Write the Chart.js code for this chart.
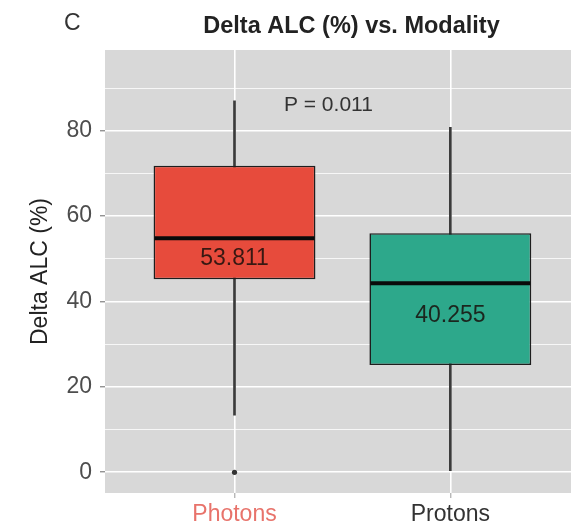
<!DOCTYPE html>
<html>
<head>
<meta charset="utf-8">
<script src="https://cdn.jsdelivr.net/npm/chart.js@4/dist/chart.umd.min.js"></script>
<style>
  html, body { margin: 0; padding: 0; background: #ffffff; }
  #wrap { width: 571px; height: 526px; }
</style>
</head>
<body>
<div id="wrap"><canvas id="c" width="571" height="526"></canvas></div>
<script>
// ---- data ----
const categories   = ['Photons', 'Protons'];
const whiskerLow   = [13.4, 0.4];
const q1           = [45.2, 25.1];
const median       = [54.8, 44.3];
const q3           = [71.8, 56.0];
const whiskerHigh  = [87.0, 80.8];
const outlierIndex = [0];
const outlierValue = [0.0];
const meanLabels   = ['53.811', '40.255'];
const meanLabelY   = [50.1, 36.6];
const yMajorTicks  = [0, 20, 40, 60, 80];
const yMinorTicks  = [10, 30, 50, 70, 90];
const chartTitle   = 'Delta ALC (%) vs. Modality';
const panelLetter  = 'C';
const yAxisTitle   = 'Delta ALC (%)';
const pValueText   = 'P = 0.011';
const pValuePos    = { x: 1.435, y: 86.0 };

const boxColors    = ['#E74B3C', '#2DA88B'];
const catColors    = ['#E8736B', '#333333'];
const FONT = '"Liberation Sans", Arial, Helvetica, sans-serif';

const catX = categories.map((c, i) => i + 1);

const panelPlugin = {
  id: 'panel',
  beforeDraw(chart) {
    const { ctx, chartArea: a } = chart;
    ctx.save();
    ctx.fillStyle = '#ffffff';
    ctx.fillRect(0, 0, chart.width, chart.height);
    ctx.fillStyle = '#D8D8D8';
    ctx.fillRect(a.left, a.top, a.right - a.left, a.bottom - a.top);
    ctx.restore();
  },
  afterDatasetsDraw(chart) {
    const { ctx, scales: { x, y } } = chart;
    ctx.save();
    // medians
    median.forEach((m, i) => {
      const cx = x.getPixelForValue(catX[i]);
      const half = (x.getPixelForValue(catX[i] + 0.375) - cx);
      ctx.strokeStyle = '#0a0a0a';
      ctx.lineWidth = 4;
      ctx.beginPath();
      ctx.moveTo(cx - half + 1, y.getPixelForValue(m));
      ctx.lineTo(cx + half - 1, y.getPixelForValue(m));
      ctx.stroke();
    });
    // mean labels
    ctx.font = '23px ' + FONT;
    ctx.textAlign = 'center';
    ctx.textBaseline = 'middle';
    ctx.fillStyle = 'rgba(25,15,10,0.85)';
    meanLabels.forEach((t, i) => {
      ctx.fillText(t, x.getPixelForValue(catX[i]), y.getPixelForValue(meanLabelY[i]));
    });
    // p value
    ctx.font = '21px ' + FONT;
    ctx.fillStyle = '#333333';
    ctx.fillText(pValueText, x.getPixelForValue(pValuePos.x), y.getPixelForValue(pValuePos.y));
    ctx.restore();
  },
  afterDraw(chart) {
    const { ctx } = chart;
    ctx.save();
    ctx.textBaseline = 'alphabetic';
    ctx.textAlign = 'center';
    ctx.fillStyle = '#222222';
    ctx.font = 'bold 23.5px ' + FONT;
    ctx.fillText(chartTitle, 351.5, 33);
    ctx.textAlign = 'left';
    ctx.fillStyle = '#333333';
    ctx.font = '23px ' + FONT;
    ctx.fillText(panelLetter, 64, 30);
    ctx.restore();
  }
};

new Chart(document.getElementById('c'), {
  type: 'bar',
  data: {
    datasets: [
      {
        label: 'whiskers',
        data: catX.map((v, i) => ({ x: v, y: [whiskerLow[i], whiskerHigh[i]] })),
        backgroundColor: '#3a3a3a',
        borderWidth: 0,
        barThickness: 2,
        grouped: false,
        order: 3
      },
      {
        label: 'boxes',
        data: catX.map((v, i) => ({ x: v, y: [q1[i], q3[i]] })),
        backgroundColor: boxColors,
        borderColor: '#1e1e1e',
        borderWidth: 1.6,
        borderSkipped: false,
        categoryPercentage: 1,
        barPercentage: 0.75,
        grouped: false,
        order: 2
      },
      {
        type: 'scatter',
        label: 'outliers',
        data: outlierIndex.map((k, j) => ({ x: catX[k], y: outlierValue[j] })),
        pointRadius: 2.6,
        pointBackgroundColor: '#333333',
        pointBorderWidth: 0,
        order: 1
      }
    ]
  },
  options: {
    responsive: false,
    animation: false,
    devicePixelRatio: 1,
    layout: { autoPadding: false, padding: { top: 50, left: 0, right: 0, bottom: 0 } },
    plugins: { legend: { display: false }, tooltip: { enabled: false }, title: { display: false } },
    scales: {
      x: {
        type: 'linear',
        min: 0.4,
        max: 2.559,
        offset: false,
        afterBuildTicks(s) { s.ticks = catX.map(v => ({ value: v })); },
        afterFit(s) { s.height = 33; s.paddingLeft = 0; s.paddingRight = 0; },
        border: { display: false },
        grid: {
          offset: false,
          color: '#ffffff',
          lineWidth: 1.6,
          tickColor: '#9a9a9a',
          tickLength: 5,
          tickWidth: 1
        },
        ticks: {
          padding: 3,
          autoSkip: false,
          maxRotation: 0,
          font: { family: FONT, size: 23 },
          color: (c) => catColors[(c.tick ? c.tick.value : 1) - 1] || '#333',
          callback: (v) => categories[v - 1]
        }
      },
      y: {
        type: 'linear',
        min: -4.85,
        max: 98.9,
        afterBuildTicks(s) {
          s.ticks = [...yMajorTicks, ...yMinorTicks].sort((a, b) => a - b).map(v => ({ value: v }));
        },
        afterFit(s) { s.width = 105; s.paddingTop = 0; s.paddingBottom = 0; },
        border: { display: false },
        grid: {
          color: '#ffffff',
          lineWidth: (c) => (yMajorTicks.includes(c.tick && c.tick.value) ? 1.6 : 0.8),
          tickColor: (c) => (yMajorTicks.includes(c.tick && c.tick.value) ? '#666666' : 'rgba(0,0,0,0)'),
          tickLength: 5,
          tickWidth: 1
        },
        ticks: {
          padding: 8,
          autoSkip: false,
          font: { family: FONT, size: 23 },
          color: '#4D4D4D',
          callback: (v) => (yMajorTicks.includes(v) ? String(v) : '')
        },
        title: {
          display: true,
          text: yAxisTitle,
          font: { family: FONT, size: 23 },
          color: '#222222',
          padding: { top: 27, bottom: 0 }
        }
      }
    }
  },
  plugins: [panelPlugin]
});
</script>
</body>
</html>
